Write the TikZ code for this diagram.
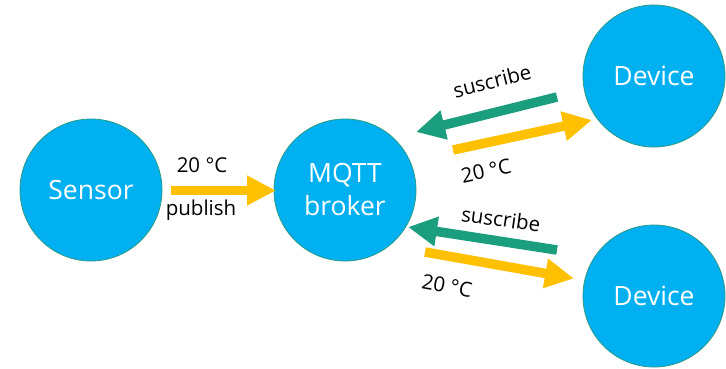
\documentclass[tikz,border=0pt]{standalone}
\usepackage{fontspec}
\setmainfont{Open Sans}
\usetikzlibrary{arrows.meta}
\definecolor{nodeblue}{HTML}{00B0F0}
\definecolor{rimteal}{HTML}{2A9A86}
\definecolor{msgyellow}{HTML}{FFC000}
\definecolor{subgreen}{HTML}{1A9E7E}
\tikzset{
  peer/.style={circle, fill=nodeblue, draw=rimteal, line width=0.8pt,
    minimum size=142pt, inner sep=0pt, text=white,
    font=\fontsize{26.5}{33}\selectfont, align=center},
  flow/.style={line width=9.5pt,
    -{Triangle[length=29pt,width=28pt]}},
  pub/.style={flow, draw=msgyellow},
  sub/.style={flow, draw=subgreen},
  lbl/.style={font=\fontsize{20.5}{22}\selectfont, text=black, inner sep=0pt}
}
\begin{document}
\begin{tikzpicture}[x=1pt,y=-1pt]
\useasboundingbox (0,0) rectangle (726,368);

% endpoints
\node[peer] (sensor) at (91,190) {Sensor};
\node[peer] (broker) at (345,190) {MQTT\\broker};
\node[peer] (dev1) at (654,76) {Device};
\node[peer] (dev2) at (654,296) {Device};

% sensor publishes to the broker
\coordinate (p0) at (171,190.5);
\coordinate (p1) at (276,190.5);
\draw[pub] (p0) -- (p1);
\node[lbl] (t0) at (202,165) {20 °C};
\node[lbl] (l0) at (201,210) {publish};

% upper device
\coordinate (s1a) at (557,97);
\coordinate (s1b) at (416,132);
\draw[sub] (s1a) -- (s1b);
\coordinate (y1a) at (453,150);
\coordinate (y1b) at (592,120);
\draw[pub] (y1a) -- (y1b);
\node[lbl, rotate=14] (l1) at (492,81) {suscribe};
\node[lbl, rotate=12] (t1) at (486,171) {20 °C};

% lower device
\coordinate (s2a) at (557,250);
\coordinate (s2b) at (408,227);
\draw[sub] (s2a) -- (s2b);
\coordinate (y2a) at (425,252);
\coordinate (y2b) at (574,278.5);
\draw[pub] (y2a) -- (y2b);
\node[lbl, rotate=-8] (l2) at (501,219) {suscribe};
\node[lbl, rotate=-10] (t2) at (447,286) {20 °C};
\end{tikzpicture}
\end{document}
